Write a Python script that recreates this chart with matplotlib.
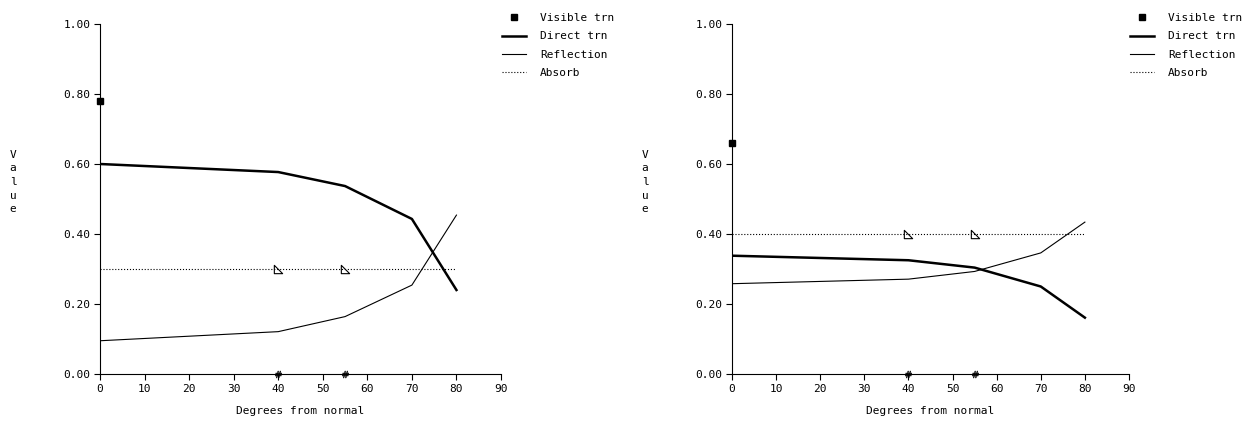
import numpy as np
import matplotlib
matplotlib.use("Agg")
import matplotlib.pyplot as plt
from matplotlib.path import Path

plt.rcParams['font.family'] = ['DejaVu Sans Mono']
plt.rcParams['font.size'] = 8

# data
angles = [0, 40, 55, 70, 80]
marker_angles = [40, 55]
absorb_x = [0, 80]

left_visible = [0.78]
left_direct = [0.60, 0.577, 0.537, 0.443, 0.24]
left_reflect = [0.095, 0.121, 0.164, 0.254, 0.454]
left_absorb = 0.30

right_visible = [0.66]
right_direct = [0.338, 0.325, 0.304, 0.25, 0.161]
right_reflect = [0.258, 0.271, 0.293, 0.346, 0.434]
right_absorb = 0.40

yticks = [0.0, 0.2, 0.4, 0.6, 0.8, 1.0]
xticks = [0, 10, 20, 30, 40, 50, 60, 70, 80, 90]

# little right-angle triangle used on the absorb line
tri = Path([(-0.5, -0.5), (0.5, -0.5), (-0.5, 0.5), (-0.5, -0.5)],
           [Path.MOVETO, Path.LINETO, Path.LINETO, Path.CLOSEPOLY])

W, H = 1250, 421
fig = plt.figure(figsize=(W / 100, H / 100), dpi=100)


def panel(left_px, right_px, visible, direct, reflect, absorb):
    ax = fig.add_axes([left_px / W, (H - 374) / H, (right_px - left_px) / W, 350 / H])
    ax.plot([0], visible, 's', color='black', ms=4, clip_on=False, label='Visible trn')
    ax.plot(angles, direct, '-', color='black', lw=1.8, label='Direct trn')
    ax.plot(angles, reflect, '-', color='black', lw=0.8, label='Reflection')
    ax.plot(absorb_x, [absorb, absorb], ':', color='black', lw=0.8, label='Absorb')
    ax.plot(marker_angles, [absorb] * len(marker_angles), linestyle='none', marker=tri,
            ms=6, mfc='none', mec='black', mew=0.8)
    ax.plot(marker_angles, [0] * len(marker_angles), linestyle='none', marker='$\\#$',
            ms=5, color='black', mew=0.3, clip_on=False)

    ax.set_xlim(0, 90)
    ax.set_ylim(0, 1.0)
    ax.set_xticks(xticks)
    ax.set_yticks(yticks)
    ax.set_yticklabels(['%.2f' % v for v in yticks])
    ax.spines['top'].set_visible(False)
    ax.spines['right'].set_visible(False)
    ax.tick_params(direction='out', length=4, width=0.8, pad=3)
    ax.set_xlabel('Degrees from normal', labelpad=9)

    ax.legend(loc='upper left', bbox_to_anchor=(1.0025, 1.031), frameon=False,
              handlelength=2.2, handletextpad=1.2, labelspacing=0.75,
              borderpad=0, borderaxespad=0)
    return ax


panel(100, 501, left_visible, left_direct, left_reflect, left_absorb)
panel(732, 1129, right_visible, right_direct, right_reflect, right_absorb)

fig.text(13 / W, 1 - 182 / H, 'V\na\nl\nu\ne', ha='center', va='center', linespacing=1.45)
fig.text(645 / W, 1 - 182 / H, 'V\na\nl\nu\ne', ha='center', va='center', linespacing=1.45)

fig.savefig('out.png', dpi=100)
